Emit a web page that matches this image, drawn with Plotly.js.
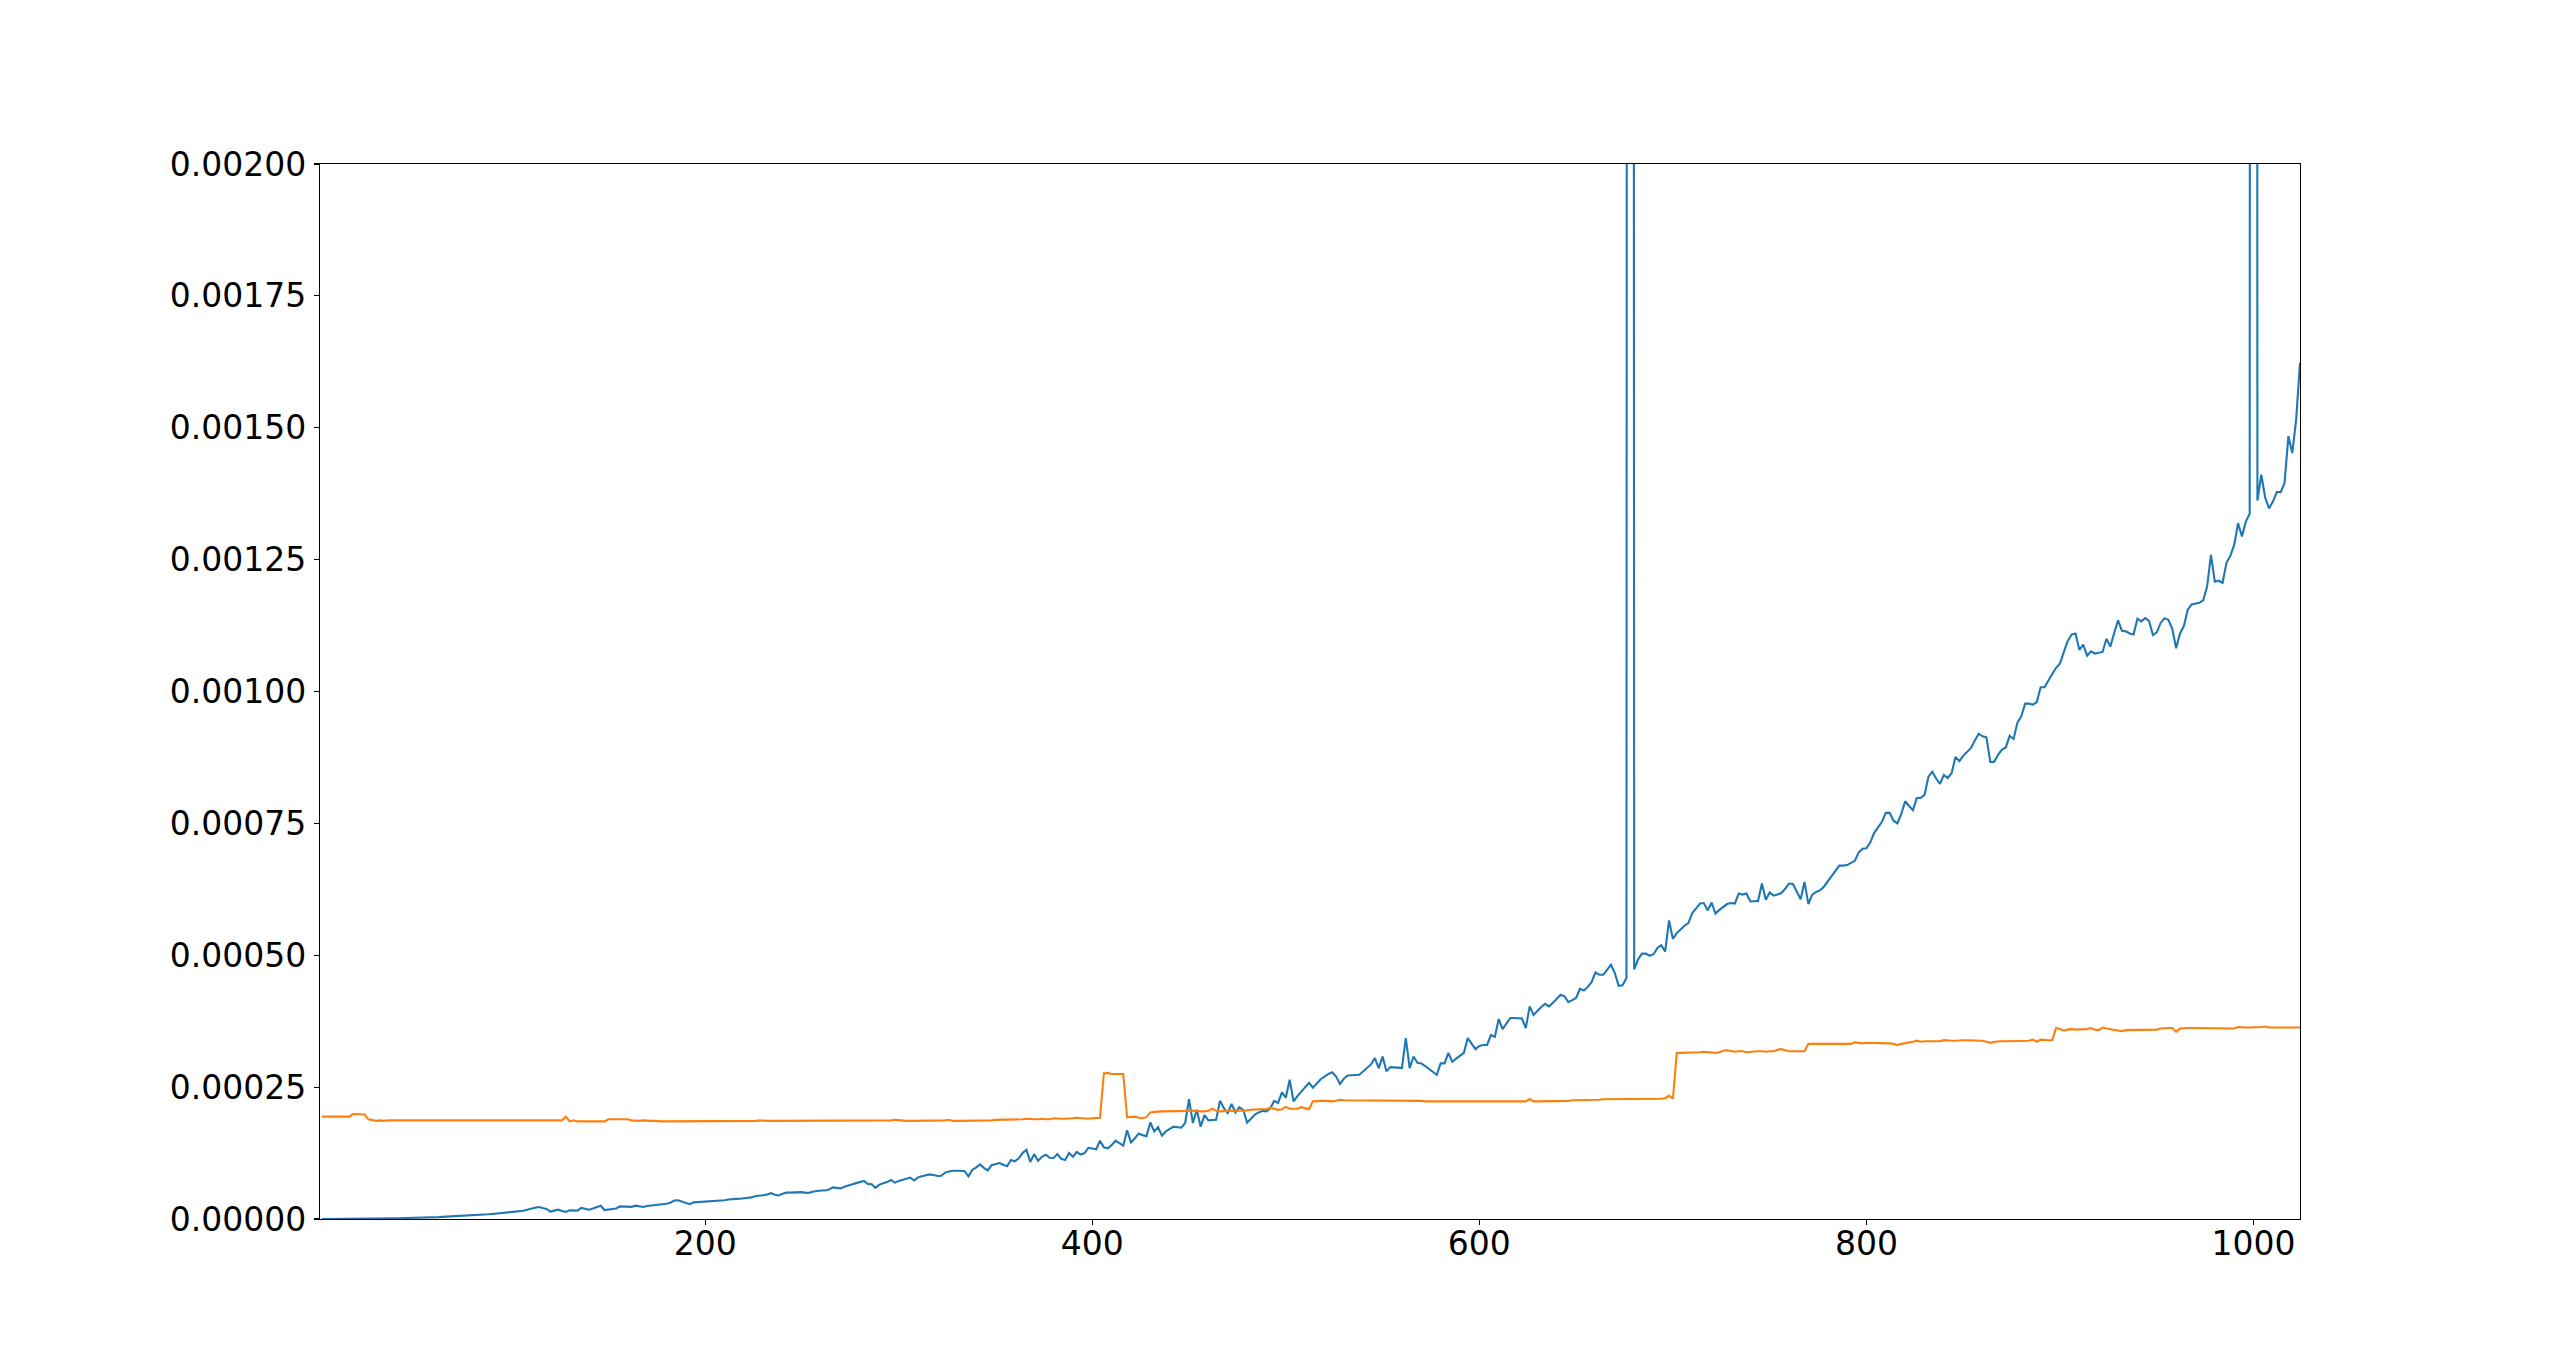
<!DOCTYPE html>
<html>
<head>
<meta charset="utf-8">
<script src="https://cdn.plot.ly/plotly-3.0.1.min.js"></script>
<style>
  html, body { margin: 0; padding: 0; background: #fff; }
  #chart { width: 2556px; height: 1370px; }
</style>
</head>
<body>
<div id="chart"></div>
<script>
// x positions: every 2 units from 2 to 1024
const xStep = 2;
const xCount = 512;

// Blue series, in units of 1e-5 (x = 2, 4, ..., 1024), 16 values per row
const blueE5 = [
  0.00,0.00,0.01,0.01,0.01,0.02,0.02,0.03,0.03,0.04,0.05,0.05,0.06,0.07,0.08,0.09,
  0.10,0.11,0.12,0.14,0.15,0.16,0.18,0.20,0.21,0.23,0.25,0.27,0.30,0.33,0.36,0.40,
  0.43,0.47,0.51,0.55,0.58,0.62,0.66,0.70,0.75,0.79,0.84,0.89,0.95,1.01,1.07,1.13,
  1.18,1.25,1.32,1.39,1.55,1.77,2.00,2.12,2.27,2.10,1.90,1.40,1.55,1.77,1.50,1.35,
  1.64,1.60,1.58,2.10,1.95,1.77,2.00,2.30,2.50,1.70,1.80,1.90,2.00,2.40,2.35,2.27,
  2.30,2.53,2.40,2.27,2.45,2.53,2.65,2.78,2.85,2.90,3.10,3.50,3.55,3.28,2.95,2.80,
  3.16,3.20,3.25,3.30,3.35,3.45,3.50,3.52,3.55,3.70,3.80,3.82,3.85,3.90,3.95,4.10,
  4.35,4.40,4.50,4.65,4.90,4.60,4.47,4.80,5.00,5.00,5.05,5.15,5.10,4.95,5.00,5.20,
  5.35,5.40,5.40,5.60,6.00,5.90,5.80,6.10,6.40,6.60,6.80,7.00,7.20,6.65,6.60,5.90,
  6.50,6.80,7.00,7.40,6.90,7.20,7.45,7.60,7.85,7.30,7.90,8.10,8.30,8.45,8.35,8.15,
  8.20,8.80,9.00,9.15,9.15,9.15,9.10,8.10,9.30,9.80,10.35,9.70,9.20,10.20,10.40,10.60,
  10.30,10.00,11.20,10.95,11.50,12.50,13.10,10.80,12.30,11.05,11.80,12.20,11.60,11.56,12.30,11.40,
  11.20,12.50,11.80,12.70,12.20,12.50,13.50,13.30,13.20,14.84,13.60,13.40,14.00,14.84,14.40,13.90,
  16.80,14.50,15.30,16.20,15.90,15.70,18.30,16.60,17.40,15.80,16.60,17.00,17.50,17.40,17.30,18.20,
  22.70,18.20,20.70,17.50,19.70,18.70,18.70,18.80,22.40,21.00,20.10,21.80,20.20,21.20,20.70,18.30,
  19.00,19.80,20.20,20.50,20.40,21.00,22.40,22.00,24.00,23.00,26.40,22.30,23.30,24.20,25.00,25.80,
  24.90,25.80,26.50,27.00,27.50,27.80,27.00,25.60,26.60,27.20,27.30,27.30,27.35,28.00,28.60,29.30,
  30.50,28.60,30.80,28.00,28.80,28.80,28.70,28.60,34.30,28.60,30.80,29.60,29.50,29.00,28.40,27.90,
  27.35,29.50,29.50,31.50,29.80,30.40,31.00,31.50,34.30,33.20,32.20,32.80,33.00,33.00,34.90,34.50,
  37.90,36.00,37.00,38.10,38.10,38.10,38.00,36.20,40.30,38.70,39.50,40.20,40.80,40.30,41.00,41.80,
  42.50,42.20,41.10,41.50,41.90,43.65,43.30,44.00,44.90,46.75,46.30,46.30,47.30,48.20,46.60,44.20,
  44.30,45.70,2000.0,47.30,49.20,50.30,50.30,49.90,50.20,51.40,51.90,50.70,56.60,53.10,54.20,55.00,
  55.60,56.10,58.00,58.90,59.80,59.90,58.50,60.00,57.90,58.60,59.20,59.70,59.90,59.80,61.70,61.50,
  61.70,60.20,60.25,60.30,63.60,60.50,61.90,61.30,61.50,61.80,62.60,63.60,63.50,62.00,60.60,63.90,
  59.70,61.50,62.00,62.30,63.00,64.00,65.00,66.00,67.00,67.00,67.10,67.50,67.90,69.50,70.20,70.30,
  71.40,73.20,74.30,75.30,77.00,77.00,75.50,75.00,76.80,79.20,78.30,77.50,79.80,79.80,80.40,83.80,
  84.80,83.50,82.50,84.20,83.60,84.50,87.60,86.80,87.80,88.50,89.30,90.70,92.00,91.50,91.30,86.60,
  86.70,88.00,89.00,89.40,91.60,91.00,94.10,95.30,97.70,97.70,97.50,98.00,100.80,100.80,102.20,103.30,
  104.50,105.30,107.50,109.60,110.80,111.00,107.90,108.90,106.80,107.60,107.20,107.30,107.50,110.00,108.50,111.10,
  113.50,111.50,111.40,111.00,110.80,113.80,113.30,113.90,113.40,110.70,111.20,113.00,113.90,113.60,111.90,108.20,
  111.00,112.40,115.50,116.50,116.60,116.80,117.30,119.90,125.90,120.80,121.00,120.60,124.40,125.70,127.80,131.90,
  129.40,132.20,133.70,2000.0,136.20,141.10,136.80,134.70,136.00,137.80,137.80,139.50,148.40,145.20,151.50,162.30
];

// Orange series, in units of 1e-5 (x = 2, 4, ..., 1024), 16 values per row
const orangeE5 = [
  19.4,19.4,19.5,19.4,19.4,19.5,19.4,19.4,19.9,19.9,19.9,19.8,18.9,18.7,18.6,18.7,
  18.6,18.7,18.7,18.6,18.6,18.7,18.6,18.6,18.7,18.6,18.6,18.6,18.7,18.6,18.6,18.6,
  18.6,18.6,18.7,18.6,18.6,18.6,18.6,18.7,18.6,18.6,18.6,18.6,18.7,18.6,18.6,18.6,
  18.6,18.7,18.6,18.6,18.6,18.6,18.7,18.6,18.6,18.6,18.7,18.6,18.6,18.7,18.7,19.4,
  18.5,18.7,18.5,18.5,18.5,18.5,18.5,18.4,18.4,18.5,18.9,18.9,18.8,18.9,18.9,18.9,
  18.7,18.6,18.6,18.7,18.6,18.6,18.6,18.5,18.5,18.5,18.5,18.5,18.5,18.6,18.5,18.5,
  18.5,18.5,18.6,18.6,18.5,18.5,18.5,18.5,18.5,18.5,18.6,18.6,18.5,18.5,18.6,18.6,
  18.6,18.7,18.6,18.6,18.6,18.6,18.6,18.6,18.7,18.7,18.7,18.6,18.6,18.6,18.6,18.7,
  18.7,18.7,18.7,18.7,18.7,18.6,18.7,18.6,18.6,18.6,18.7,18.6,18.6,18.6,18.6,18.6,
  18.6,18.6,18.7,18.7,18.8,18.7,18.6,18.6,18.6,18.6,18.7,18.6,18.6,18.7,18.6,18.6,
  18.6,18.7,18.8,18.6,18.6,18.6,18.7,18.6,18.6,18.7,18.6,18.7,18.7,18.7,18.8,18.8,
  18.8,18.8,18.8,18.9,18.9,18.9,19.0,18.9,18.9,18.9,19.0,18.9,18.9,19.1,19.0,19.0,
  19.0,19.0,19.1,19.2,19.1,19.0,19.0,19.1,19.1,19.2,27.6,27.7,27.5,27.5,27.5,27.5,
  19.3,19.4,19.4,19.2,19.1,19.3,20.2,20.3,20.4,20.4,20.4,20.4,20.4,20.4,20.4,20.5,
  20.6,20.5,20.4,20.4,20.4,20.5,20.9,20.5,20.4,20.5,20.5,20.5,20.5,20.5,20.5,20.6,
  20.7,20.8,20.8,20.8,20.8,21.1,20.9,20.7,20.8,21.25,20.9,20.9,20.9,21.2,21.0,20.8,
  22.3,22.4,22.4,22.4,22.3,22.3,22.4,22.6,22.5,22.5,22.5,22.5,22.5,22.5,22.5,22.5,
  22.5,22.4,22.4,22.4,22.4,22.4,22.4,22.4,22.4,22.4,22.4,22.4,22.4,22.3,22.3,22.3,
  22.2,22.2,22.2,22.2,22.2,22.2,22.2,22.2,22.2,22.2,22.2,22.2,22.2,22.2,22.2,22.2,
  22.2,22.2,22.3,22.2,22.2,22.2,22.2,22.3,22.75,22.3,22.3,22.3,22.3,22.3,22.4,22.4,
  22.4,22.4,22.4,22.5,22.5,22.5,22.5,22.6,22.6,22.6,22.6,22.7,22.7,22.7,22.7,22.7,
  22.7,22.8,22.8,22.8,22.8,22.8,22.8,22.8,22.8,22.8,22.8,22.9,23.4,22.8,31.5,31.5,
  31.5,31.5,31.6,31.6,31.6,31.7,31.6,31.6,31.5,31.6,31.9,32.0,31.8,31.7,31.8,31.8,
  31.6,31.7,31.7,31.8,31.8,31.7,31.8,31.8,32.1,32.2,32.0,31.8,31.8,31.8,31.8,31.8,
  33.2,33.2,33.2,33.3,33.3,33.3,33.3,33.3,33.3,33.3,33.2,33.2,33.5,33.4,33.3,33.4,
  33.4,33.4,33.4,33.4,33.4,33.3,33.2,33.0,33.2,33.3,33.5,33.6,33.8,33.6,33.7,33.7,
  33.7,33.7,33.7,33.9,33.8,33.8,33.8,33.9,33.9,33.9,33.9,33.9,33.9,33.8,33.6,33.4,
  33.6,33.7,33.7,33.7,33.7,33.7,33.7,33.7,33.8,33.8,34.0,33.6,34.0,33.9,33.9,33.9,
  36.2,36.0,35.7,35.9,36.0,35.9,35.9,35.9,36.0,36.2,35.9,35.8,36.3,36.1,36.0,35.9,
  35.7,35.6,35.8,35.8,35.8,35.8,35.8,35.8,35.8,35.8,35.9,36.1,36.2,36.2,36.2,35.5,
  36.1,36.2,36.2,36.2,36.2,36.2,36.2,36.2,36.2,36.2,36.2,36.2,36.2,36.2,36.1,36.4,
  36.3,36.3,36.3,36.3,36.3,36.4,36.5,36.3,36.3,36.3,36.3,36.3,36.3,36.3,36.3,36.3
];

const xTickVals = [200, 400, 600, 800, 1000];
const yTickVals = [0, 0.00025, 0.0005, 0.00075, 0.001, 0.00125, 0.0015, 0.00175, 0.002];
const yTickText = ["0.00000", "0.00025", "0.00050", "0.00075", "0.00100", "0.00125", "0.00150", "0.00175", "0.00200"];

const xs = Array.from({length: xCount}, (_, i) => xStep * (i + 1));
const blue = blueE5.map(v => v * 1e-5);
const orange = orangeE5.map(v => v * 1e-5);

const traces = [
  { x: xs, y: blue, type: 'scatter', mode: 'lines', line: { color: '#1f77b4', width: 2.1 }, showlegend: false, hoverinfo: 'skip' },
  { x: xs, y: orange, type: 'scatter', mode: 'lines', line: { color: '#ff7f0e', width: 2.1 }, showlegend: false, hoverinfo: 'skip' }
];

const axisCommon = {
  showline: true, mirror: true, linecolor: '#000', linewidth: 1.1,
  ticks: 'outside', ticklen: 5, tickwidth: 1.1, tickcolor: '#000',
  showgrid: false, zeroline: false,
  tickfont: { family: 'DejaVu Sans', size: 33, color: '#000' }
};

const layout = {
  width: 2556, height: 1370,
  paper_bgcolor: '#fff', plot_bgcolor: '#fff',
  margin: { l: 320, r: 256, t: 164, b: 151, pad: 0 },
  xaxis: Object.assign({}, axisCommon, {
    range: [1, 1024], tickmode: 'array', tickvals: xTickVals, ticktext: xTickVals.map(String),
    ticklabelstandoff: -10
  }),
  yaxis: Object.assign({}, axisCommon, {
    range: [0, 0.002], tickmode: 'array', tickvals: yTickVals, ticktext: yTickText,
    ticklabelstandoff: 1
  }),
  showlegend: false
};

Plotly.newPlot('chart', traces, layout, { staticPlot: true, displayModeBar: false });
</script>
</body>
</html>
